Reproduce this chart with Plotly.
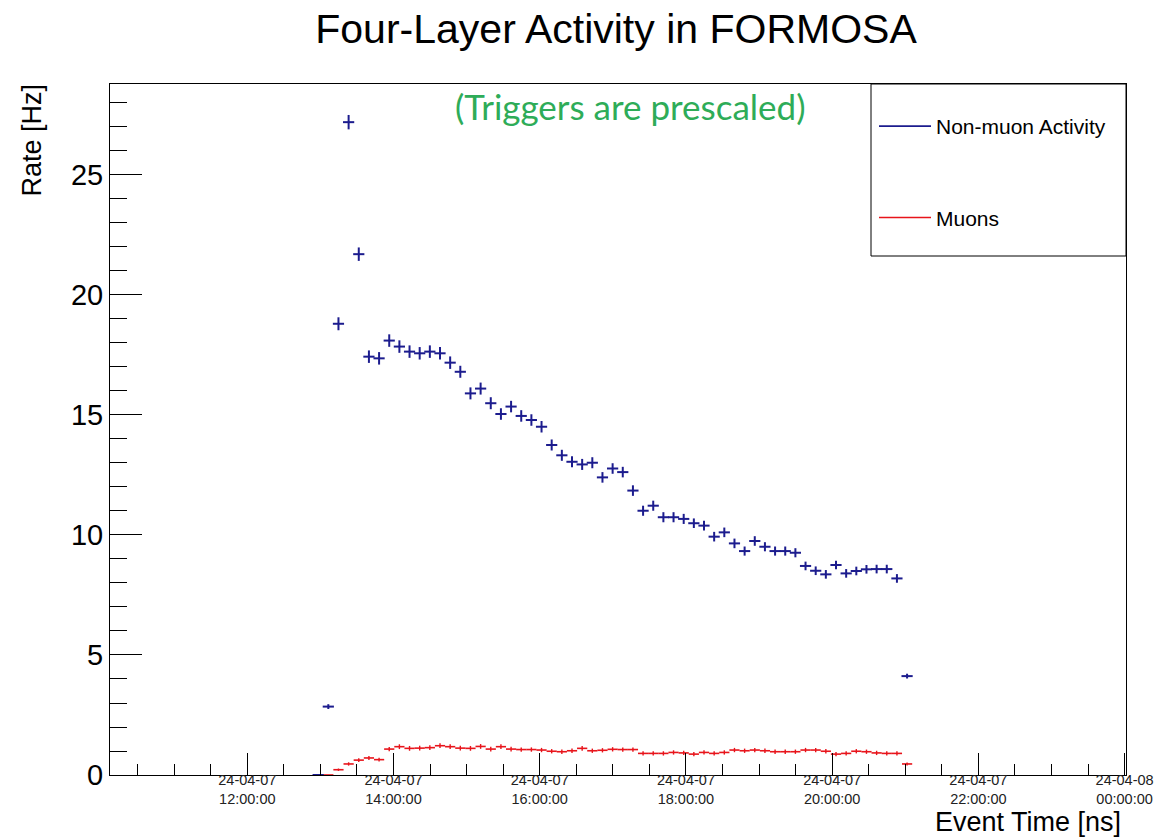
import plotly.graph_objects as go

# ---------------- data ----------------
bin_times = [
    "2024-04-07 12:58:10", "2024-04-07 13:06:30", "2024-04-07 13:14:50", "2024-04-07 13:23:10",
    "2024-04-07 13:31:30", "2024-04-07 13:39:50", "2024-04-07 13:48:10", "2024-04-07 13:56:30",
    "2024-04-07 14:04:50", "2024-04-07 14:13:10", "2024-04-07 14:21:30", "2024-04-07 14:29:50",
    "2024-04-07 14:38:10", "2024-04-07 14:46:30", "2024-04-07 14:54:50", "2024-04-07 15:03:10",
    "2024-04-07 15:11:30", "2024-04-07 15:19:50", "2024-04-07 15:28:10", "2024-04-07 15:36:30",
    "2024-04-07 15:44:50", "2024-04-07 15:53:10", "2024-04-07 16:01:30", "2024-04-07 16:09:50",
    "2024-04-07 16:18:10", "2024-04-07 16:26:30", "2024-04-07 16:34:50", "2024-04-07 16:43:10",
    "2024-04-07 16:51:30", "2024-04-07 16:59:50", "2024-04-07 17:08:10", "2024-04-07 17:16:30",
    "2024-04-07 17:24:50", "2024-04-07 17:33:10", "2024-04-07 17:41:30", "2024-04-07 17:49:50",
    "2024-04-07 17:58:10", "2024-04-07 18:06:30", "2024-04-07 18:14:50", "2024-04-07 18:23:10",
    "2024-04-07 18:31:30", "2024-04-07 18:39:50", "2024-04-07 18:48:10", "2024-04-07 18:56:30",
    "2024-04-07 19:04:50", "2024-04-07 19:13:10", "2024-04-07 19:21:30", "2024-04-07 19:29:50",
    "2024-04-07 19:38:10", "2024-04-07 19:46:30", "2024-04-07 19:54:50", "2024-04-07 20:03:10",
    "2024-04-07 20:11:30", "2024-04-07 20:19:50", "2024-04-07 20:28:10", "2024-04-07 20:36:30",
    "2024-04-07 20:44:50", "2024-04-07 20:53:10", "2024-04-07 21:01:30",
]

nonmuon_rate = [
    0.0, 2.85, 18.8, 27.2, 21.7, 17.43, 17.36, 18.1, 17.85, 17.64,
    17.57, 17.64, 17.57, 17.18, 16.8, 15.9, 16.1, 15.49, 15.04, 15.35,
    14.96, 14.79, 14.51, 13.75, 13.32, 13.05, 12.94, 13.01, 12.4, 12.77,
    12.62, 11.85, 11.01, 11.22, 10.74, 10.74, 10.67, 10.49, 10.39, 9.93,
    10.11, 9.65, 9.33, 9.75, 9.51, 9.33, 9.33, 9.26, 8.71, 8.51,
    8.36, 8.75, 8.4, 8.5, 8.57, 8.58, 8.58, 8.19, 4.12,
]
nonmuon_err = [
    0.0, 0.1, 0.27, 0.3, 0.28, 0.26, 0.26, 0.26, 0.26, 0.26,
    0.26, 0.26, 0.26, 0.26, 0.25, 0.25, 0.25, 0.25, 0.24, 0.24,
    0.24, 0.24, 0.24, 0.23, 0.23, 0.23, 0.23, 0.23, 0.22, 0.22,
    0.22, 0.22, 0.21, 0.21, 0.21, 0.21, 0.21, 0.2, 0.2, 0.2,
    0.2, 0.2, 0.19, 0.2, 0.19, 0.19, 0.19, 0.19, 0.18, 0.18,
    0.18, 0.18, 0.18, 0.18, 0.18, 0.18, 0.18, 0.18, 0.1,
]

muon_rate = [
    0.0, 0.0, 0.22, 0.46, 0.62, 0.71, 0.64, 1.08, 1.18, 1.11,
    1.12, 1.14, 1.22, 1.18, 1.12, 1.11, 1.19, 1.08, 1.18, 1.08,
    1.06, 1.06, 1.04, 0.99, 0.97, 1.01, 1.11, 1.01, 1.03, 1.07,
    1.06, 1.06, 0.9, 0.9, 0.9, 0.94, 0.92, 0.87, 0.94, 0.9,
    0.94, 1.04, 1.01, 1.04, 1.01, 0.97, 0.97, 0.97, 1.04, 1.04,
    0.99, 0.87, 0.9, 0.99, 0.97, 0.92, 0.9, 0.9, 0.46,
]
muon_err = [
    0.0, 0.0, 0.05, 0.07, 0.08, 0.08, 0.08, 0.09, 0.1, 0.1,
    0.1, 0.1, 0.1, 0.1, 0.1, 0.1, 0.1, 0.1, 0.1, 0.1,
    0.09, 0.09, 0.09, 0.09, 0.09, 0.09, 0.1, 0.09, 0.09, 0.09,
    0.09, 0.09, 0.09, 0.09, 0.09, 0.09, 0.09, 0.09, 0.09, 0.09,
    0.09, 0.09, 0.09, 0.09, 0.09, 0.09, 0.09, 0.09, 0.09, 0.09,
    0.09, 0.09, 0.09, 0.09, 0.09, 0.09, 0.09, 0.09, 0.06,
]

x_tick_vals = [
    "2024-04-07 12:00:00", "2024-04-07 14:00:00", "2024-04-07 16:00:00",
    "2024-04-07 18:00:00", "2024-04-07 20:00:00", "2024-04-07 22:00:00",
    "2024-04-08 00:00:00",
]
x_tick_text = [
    "24-04-07<br>12:00:00", "24-04-07<br>14:00:00", "24-04-07<br>16:00:00",
    "24-04-07<br>18:00:00", "24-04-07<br>20:00:00", "24-04-07<br>22:00:00",
    "24-04-08<br>00:00:00",
]
y_tick_vals = [0, 5, 10, 15, 20, 25]

series_names = ["Non-muon Activity", "Muons"]

# ---------------- styles ----------------
BLUE = "#1c1c8e"
RED = "#e8141b"
GREEN = "#2eac58"
FONT = "Liberation Sans, Arial, sans-serif"

fig = go.Figure()

# Muons (drawn first, underneath)
fig.add_trace(go.Scatter(
    x=bin_times, y=muon_rate, mode="markers", showlegend=False,
    marker=dict(symbol="line-ew", size=7.3, color=RED, line=dict(color=RED, width=1.6)),
    error_y=dict(type="data", array=muon_err, color=RED, thickness=1.4, width=0),
    cliponaxis=False,
))
# Non-muon activity
fig.add_trace(go.Scatter(
    x=bin_times, y=nonmuon_rate, mode="markers", showlegend=False,
    marker=dict(symbol="line-ew", size=8, color=BLUE, line=dict(color=BLUE, width=2)),
    error_y=dict(type="data", array=nonmuon_err, color=BLUE, thickness=2, width=0),
    cliponaxis=False,
))

# legend entries (line style like ROOT legend)
for name, col, grp in [(series_names[0], BLUE, "a"), (series_names[1], RED, "b")]:
    fig.add_trace(go.Scatter(
        x=[None], y=[None], mode="lines", name=name, legendgroup=grp,
        line=dict(color=col, width=1.6),
    ))

L, R, T, B = 110, 50, 84, 64
W, H = 1176, 839
pw = W - L - R
ph = H - T - B

def px_x(p):
    return (p - L) / pw

def px_y(p):
    return (H - B - p) / ph

fig.update_layout(
    width=W, height=H,
    margin=dict(l=L, r=R, t=T, b=B),
    paper_bgcolor="white", plot_bgcolor="white",
    font=dict(family=FONT, color="black"),
    title=dict(text="Four-Layer Activity in FORMOSA", x=616 / W, xref="container",
               xanchor="center", y=1 - 29 / H, yref="container", yanchor="middle",
               font=dict(size=41, family=FONT, color="black")),
    showlegend=True,
    legend=dict(
        x=px_x(874), y=px_y(106), xanchor="left", yanchor="top",
        bgcolor="rgba(0,0,0,0)", borderwidth=0,
        font=dict(size=21, family=FONT, color="black"),
        traceorder="grouped", tracegroupgap=61, itemwidth=52,
    ),
    xaxis=dict(
        type="date",
        range=["2024-04-07 10:07:20", "2024-04-08 00:01:10"],
        showgrid=False, zeroline=False,
        showline=True, linecolor="black", linewidth=1, mirror=True,
        ticks="inside", ticklen=22, tickwidth=1, tickcolor="black",
        tickvals=x_tick_vals, ticktext=x_tick_text,
        tickfont=dict(size=14.5, family=FONT, color="#222222"),
        ticklabelstandoff=-8,
        minor=dict(ticks="inside", ticklen=11, tickwidth=1, tickcolor="black",
                   dtick=1800000, tick0="2024-04-07 00:00:00", showgrid=False),
    ),
    yaxis=dict(
        range=[0, 28.79],
        showgrid=False, zeroline=False,
        showline=True, linecolor="black", linewidth=1, mirror=True,
        ticks="inside", ticklen=32, tickwidth=1, tickcolor="black",
        tickvals=y_tick_vals,
        tickfont=dict(size=29, family=FONT, color="black"),
        minor=dict(ticks="inside", ticklen=17, tickwidth=1, tickcolor="black",
                   dtick=1, tick0=0, showgrid=False),
    ),
    shapes=[dict(type="rect", xref="paper", yref="paper",
                 x0=px_x(871), x1=1.0, y0=px_y(256), y1=1.0,
                 line=dict(color="black", width=1), fillcolor="rgba(0,0,0,0)",
                 layer="above")],
    annotations=[
        dict(text="(Triggers are prescaled)", xref="paper", yref="paper",
             x=px_x(630), y=px_y(106), xanchor="center", yanchor="middle",
             showarrow=False, font=dict(size=35, family="Lato, Open Sans, sans-serif", color=GREEN)),
        dict(text="Rate [Hz]", xref="paper", yref="paper", textangle=-90,
             x=px_x(32), y=px_y(82), xanchor="center", yanchor="top",
             showarrow=False, font=dict(size=27, family=FONT, color="black")),
        dict(text="Event Time [ns]", xref="paper", yref="paper",
             x=px_x(1123), y=px_y(822), xanchor="right", yanchor="middle",
             showarrow=False, font=dict(size=27, family=FONT, color="black")),
    ],
)

fig.write_html("out.html")
